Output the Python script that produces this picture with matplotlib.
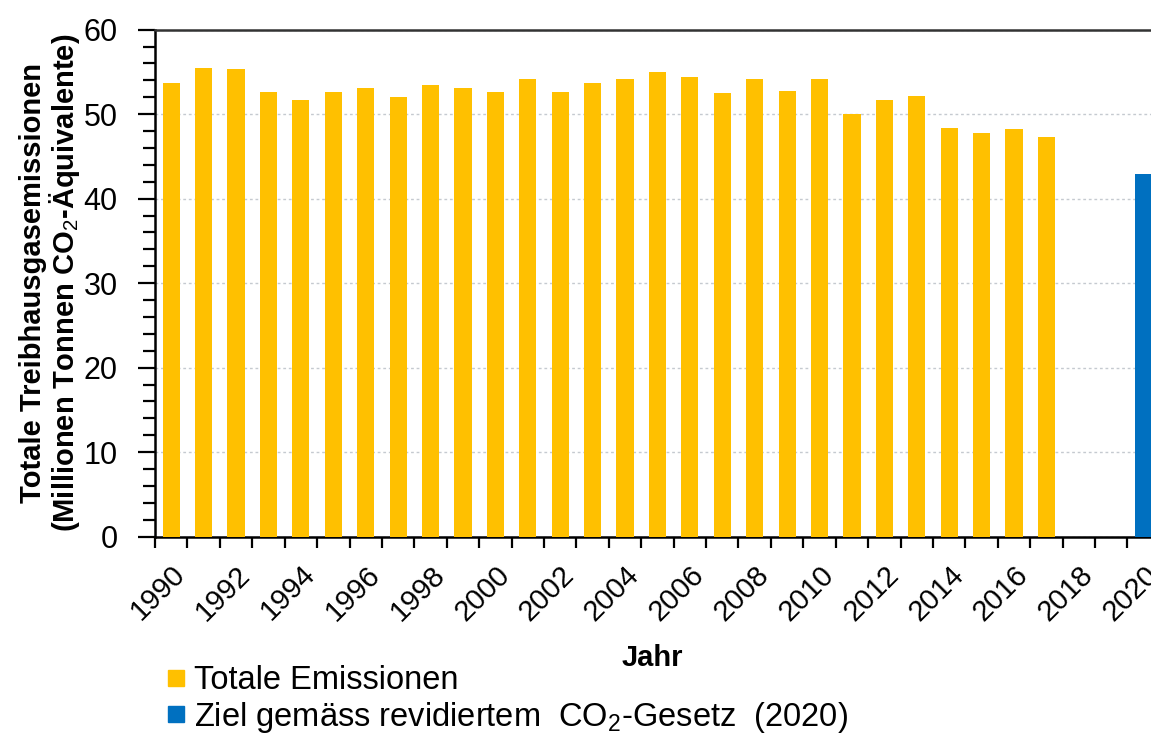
import numpy as np
import matplotlib
matplotlib.use('Agg')
import matplotlib.pyplot as plt
from matplotlib.lines import Line2D
from matplotlib.ticker import MultipleLocator, FixedLocator, NullFormatter

plt.rcParams['font.family'] = ['Liberation Sans', 'DejaVu Sans']
plt.rcParams['mathtext.fontset'] = 'custom'
plt.rcParams['mathtext.rm'] = 'Liberation Sans'
plt.rcParams['mathtext.bf'] = 'Liberation Sans:bold'

# data (Mio. t CO2-eq)
years = list(range(1990, 2021))
emissions = [53.7, 55.5, 55.3, 52.6, 51.7, 52.6, 53.1, 52.0, 53.4, 53.1,
             52.6, 54.2, 52.6, 53.7, 54.2, 55.0, 54.4, 52.5, 54.2, 52.8,
             54.2, 50.0, 51.7, 52.2, 48.4, 47.8, 48.2, 47.3]
target_year = 2020
target_value = 42.96
label_years = [y for y in years if y % 2 == 0]

yellow = '#FFC000'
blue = '#0070C0'

fig = plt.figure(figsize=(11.51, 7.35), dpi=100)
# axes run past the right edge, like the cropped original
ax = fig.add_axes([0.1347, 0.2698, 0.873, 0.6898])

x_em = np.arange(len(emissions))
ax.bar(x_em, emissions, width=0.53, color=yellow, zorder=3)
ax.bar(years.index(target_year), target_value, width=0.53, color=blue, zorder=3)

ax.set_xlim(-0.5, len(years) - 0.5)
ax.set_ylim(0, 60)

# y axis
ax.yaxis.set_major_locator(MultipleLocator(10))
ax.yaxis.set_minor_locator(MultipleLocator(2))
ax.tick_params(axis='y', which='major', direction='out', length=12, width=1.6,
               labelsize=22, pad=15)
ax.tick_params(axis='y', which='minor', direction='out', length=9, width=1.6)

# x axis: ticks between categories, labels every second year
ax.xaxis.set_major_locator(FixedLocator(np.arange(len(years) + 1) - 0.5))
ax.xaxis.set_major_formatter(NullFormatter())
ax.xaxis.set_minor_locator(FixedLocator([years.index(y) for y in label_years]))
ax.set_xticklabels([str(y) for y in label_years], minor=True)
ax.tick_params(axis='x', which='major', direction='out', length=8, width=1.6)
ax.tick_params(axis='x', which='minor', length=0, labelsize=21, pad=17)
for lab in ax.get_xticklabels(minor=True):
    lab.set_rotation(45)
    lab.set_ha('right')
    lab.set_rotation_mode('anchor')

ax.grid(axis='y', which='major', color='#c5cad0', linestyle=(0, (2, 2)),
        linewidth=1, zorder=0)

for s in ['left', 'bottom']:
    ax.spines[s].set_linewidth(1.8)
ax.spines['top'].set_linestyle((0, (3, 1)))
ax.spines['top'].set_color('#333333')
ax.spines['top'].set_linewidth(1.8)
ax.spines['right'].set_visible(False)

fig.text(51 / 1151, 1 - 283 / 735,
         'Totale Treibhausgasemissionen\n(Millionen Tonnen CO$_2$-Äquivalente)',
         rotation=90, ha='center', va='center', multialignment='center',
         fontsize=21, fontweight='bold', linespacing=1.0)
fig.text(652 / 1151, 1 - 658 / 735, 'Jahr', ha='center', va='center',
         fontsize=21, fontweight='bold')

handles = [Line2D([], [], marker='s', linestyle='none', markersize=11,
                  color=yellow),
           Line2D([], [], marker='s', linestyle='none', markersize=11,
                  color=blue)]
labels = ['Totale Emissionen', 'Ziel gemäss revidiertem  CO$_2$-Gesetz  (2020)']
fig.legend(handles, labels, loc='upper left',
           bbox_to_anchor=(166 / 1151, 1 - 665 / 735), frameon=False,
           fontsize=23.5, handlelength=0.6, handletextpad=0.25, labelspacing=0.12,
           borderaxespad=0, borderpad=0)

fig.savefig('out.png', dpi=100)
